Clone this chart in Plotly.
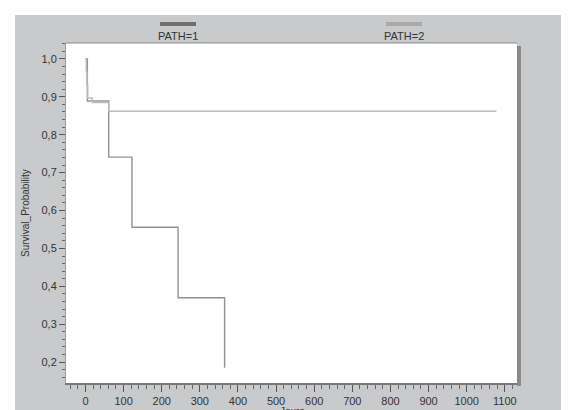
import plotly.graph_objects as go

# Data (Kaplan-Meier estimates)
path1_days = [0, 5, 61, 122, 243, 365]
path1_surv = [1.0, 0.889, 0.741, 0.556, 0.370, 0.185]

path2_days = [0, 2, 4, 6, 18, 61, 1078]
path2_surv = [1.0, 0.966, 0.931, 0.897, 0.885, 0.862, 0.862]

series_names = ["PATH=1", "PATH=2"]
x_ticks = [0, 100, 200, 300, 400, 500, 600, 700, 800, 900, 1000, 1100]
y_ticks = [0.2, 0.3, 0.4, 0.5, 0.6, 0.7, 0.8, 0.9, 1.0]

W, H = 569, 410
L, R, T, B = 58, 60, 35, 35
pw, ph = W - L - R, H - T - B

def px(x):
    return (x - L) / pw

def py(y):
    return (H - B - y) / ph

fig = go.Figure()
fig.add_trace(go.Scatter(x=path1_days, y=path1_surv, mode="lines",
                         line=dict(color="#929292", width=1.4, shape="hv"),
                         name=series_names[0], showlegend=False))
fig.add_trace(go.Scatter(x=path2_days, y=path2_surv, mode="lines",
                         line=dict(color="#bcbcbc", width=1.4, shape="hv"),
                         name=series_names[1], showlegend=False))

shapes = [
    # outer grey panel
    dict(type="rect", xref="paper", yref="paper", x0=px(7), x1=px(555),
         y0=py(H + 5), y1=py(7), fillcolor="#c9cacc", line=dict(width=0), layer="below"),
    # right shadow of plot frame
    dict(type="rect", xref="paper", yref="paper", x0=px(509), x1=px(513),
         y0=py(378), y1=py(38), fillcolor="#8a8a8a", line=dict(width=0), layer="below"),
    # white plot area
    dict(type="rect", xref="paper", yref="paper", x0=0, x1=1, y0=0, y1=1,
         fillcolor="white", line=dict(width=0), layer="below"),
    # top frame line
    dict(type="line", xref="paper", yref="paper", x0=0, x1=1, y0=1, y1=1,
         line=dict(color="#8a8a8a", width=1.2)),
    # legend bars
    dict(type="rect", xref="paper", yref="paper", x0=px(152), x1=px(188),
         y0=py(18), y1=py(14), fillcolor="#6e6e6e", line=dict(width=0)),
    dict(type="rect", xref="paper", yref="paper", x0=px(378), x1=px(414),
         y0=py(18), y1=py(14), fillcolor="#a9a9a9", line=dict(width=0)),
]

annotations = [
    dict(text=series_names[0], xref="paper", yref="paper", x=px(170), y=py(28),
         showarrow=False, font=dict(size=11, color="#333333"), xanchor="center", yanchor="middle"),
    dict(text=series_names[1], xref="paper", yref="paper", x=px(396), y=py(28),
         showarrow=False, font=dict(size=11, color="#333333"), xanchor="center", yanchor="middle"),
    dict(text="Jours", xref="paper", yref="paper", x=0.5, y=py(403),
         showarrow=False, font=dict(size=10, color="#333333"), xanchor="center", yanchor="middle"),
    dict(text="Survival_Probability", xref="paper", yref="paper", x=px(17), y=0.5,
         textangle=-90, showarrow=False, font=dict(size=10, color="#333333"),
         xanchor="center", yanchor="middle"),
]

fig.update_layout(
    width=W, height=H,
    margin=dict(l=L, r=R, t=T, b=B, pad=0),
    paper_bgcolor="white", plot_bgcolor="white",
    separators=", ",
    font=dict(family="Liberation Sans, Arial, sans-serif", size=11, color="#333333"),
    shapes=shapes, annotations=annotations,
    showlegend=False,
)

fig.update_xaxes(
    range=[-51, 1132], tickvals=x_ticks, ticktext=[str(v) for v in x_ticks],
    showgrid=False, zeroline=False,
    showline=True, linecolor="#7a7a7a", linewidth=2,
    ticks="outside", ticklen=7, tickcolor="#555555", tickwidth=1,
    minor=dict(dtick=20, tick0=0, ticks="outside", ticklen=4, tickcolor="#666666", showgrid=False),
    tickfont=dict(size=11, color="#333333"),
)
fig.update_yaxes(
    range=[0.145, 1.042], tickvals=y_ticks, tickformat=".1f",
    showgrid=False, zeroline=False,
    showline=True, linecolor="#9a9a9a", linewidth=1,
    ticks="outside", ticklen=6, tickcolor="#555555", tickwidth=1,
    minor=dict(dtick=0.02, tick0=0, ticks="outside", ticklen=3, tickcolor="#666666", showgrid=False),
    tickfont=dict(size=11, color="#333333"),
)

fig.write_html("out.html")
